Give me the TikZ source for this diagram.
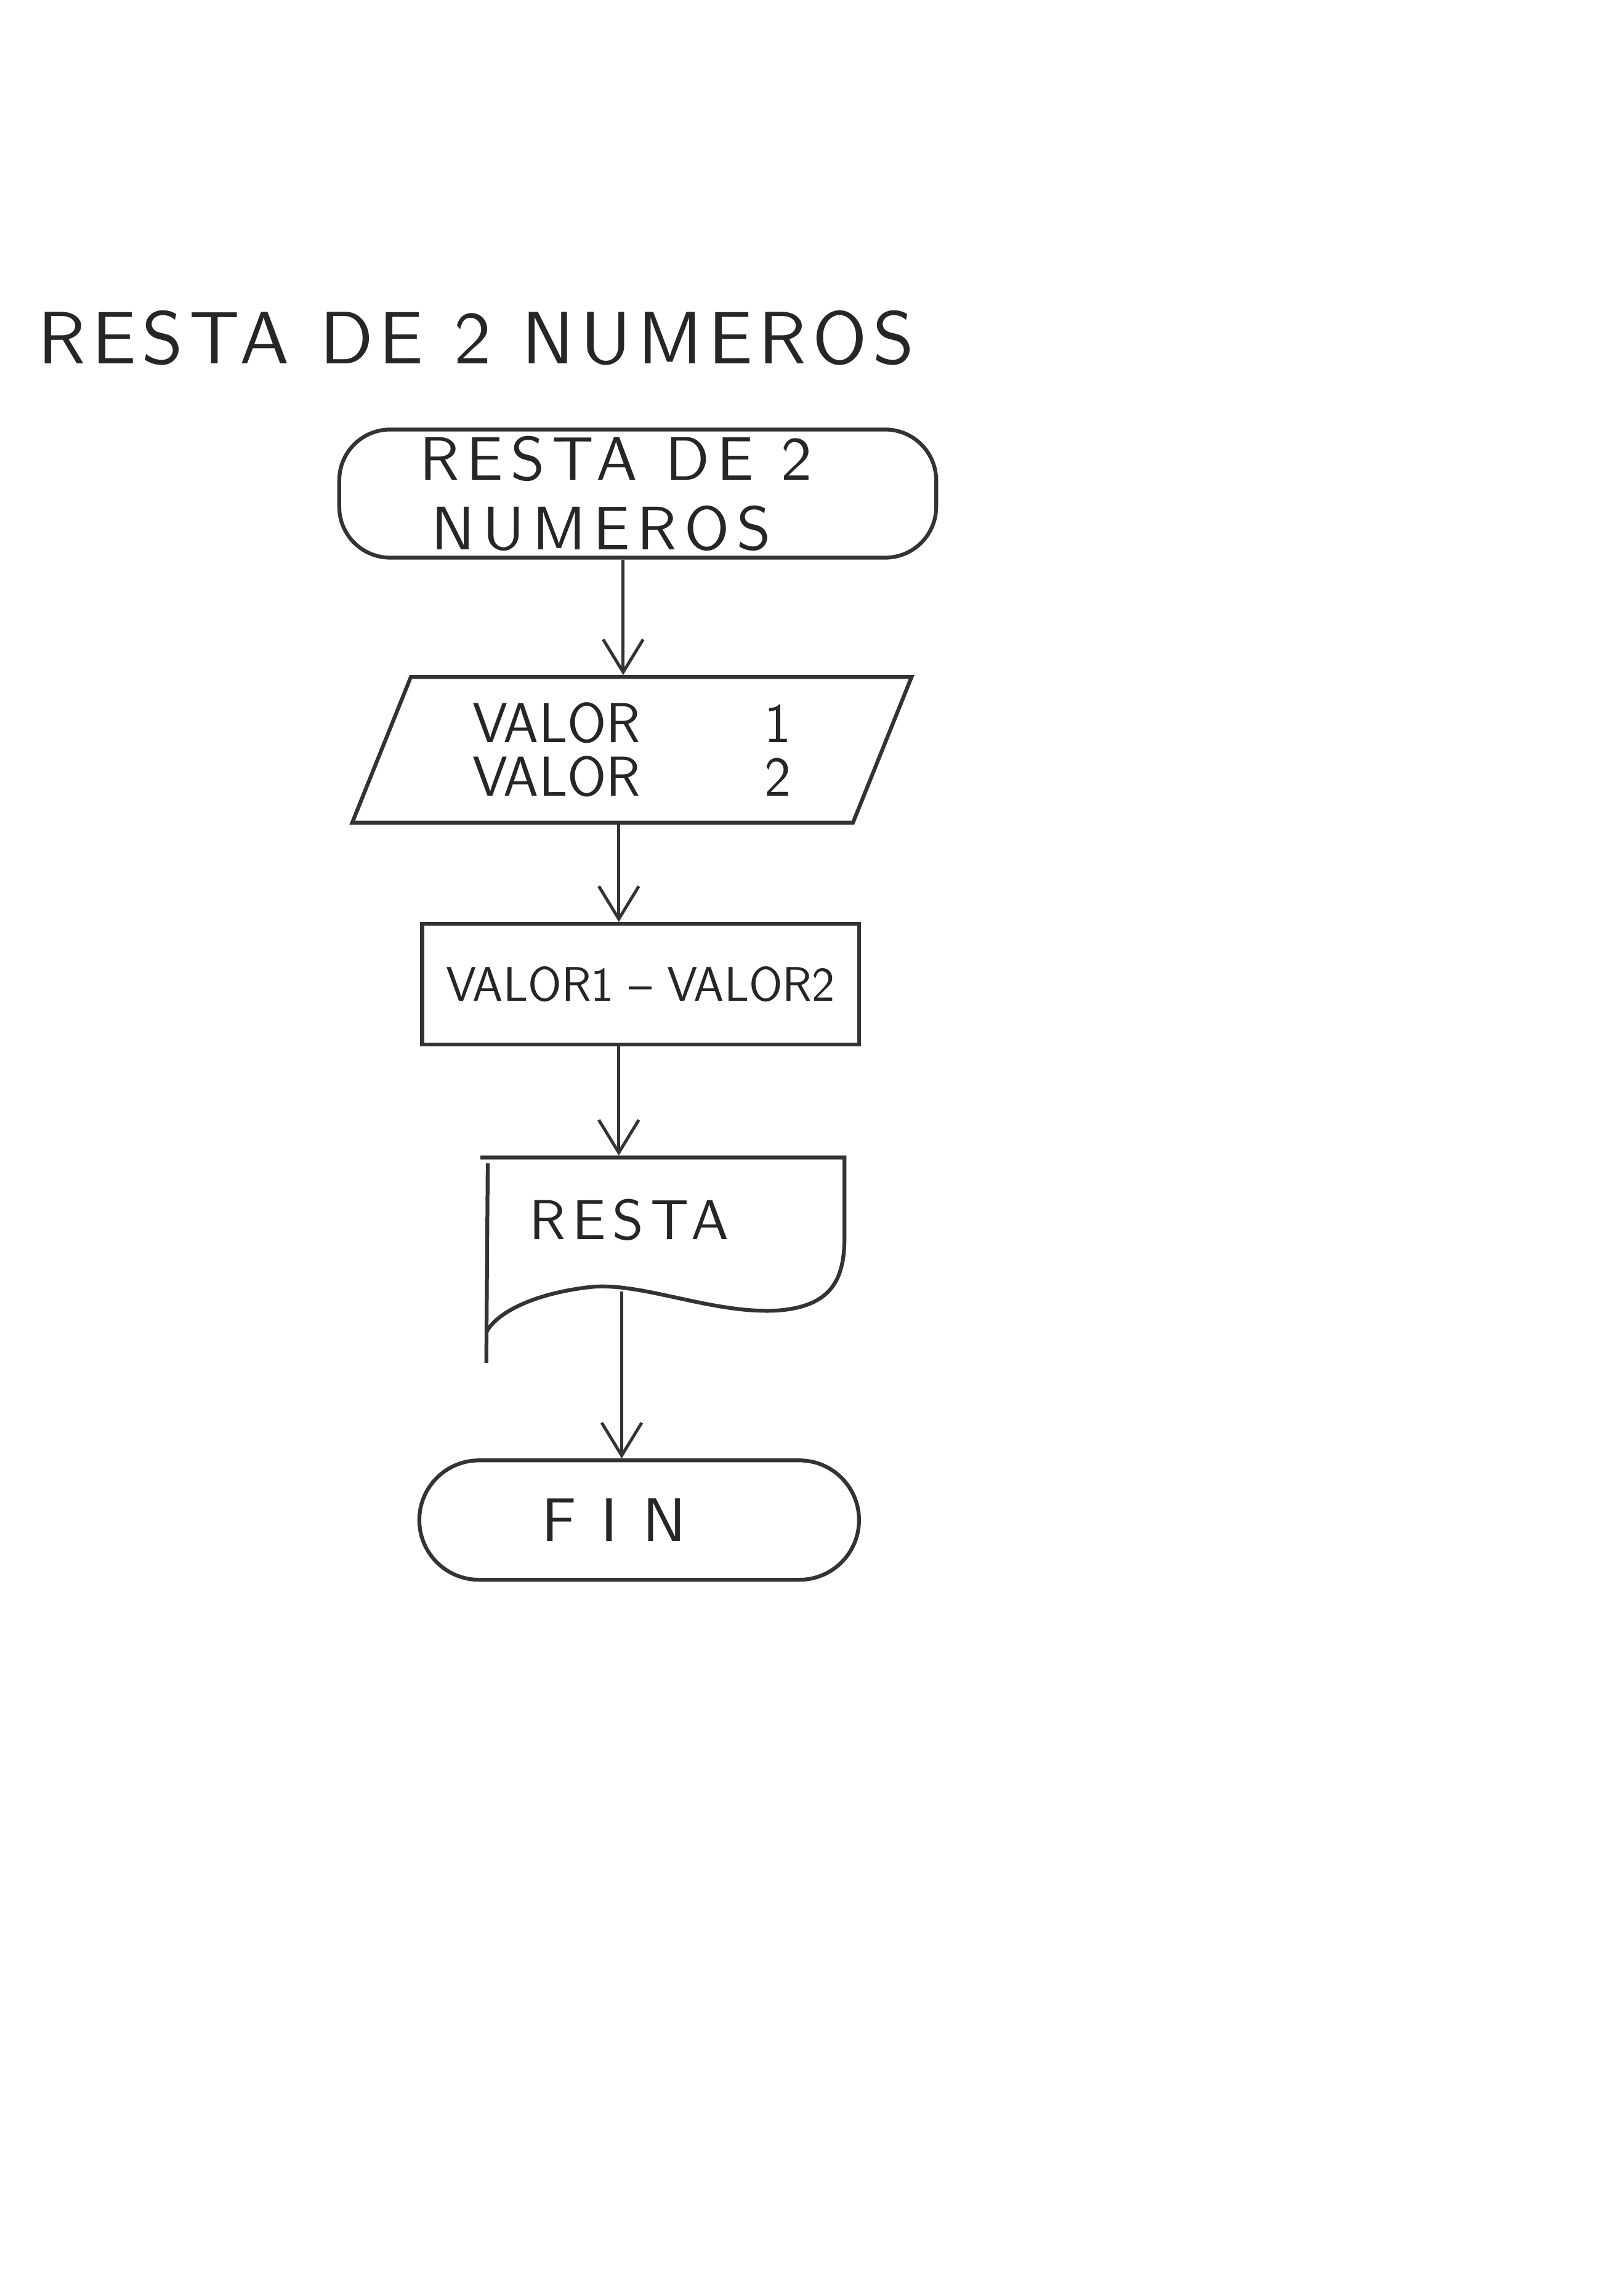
\documentclass[tikz,border=0pt]{standalone}
\usepackage{fontspec}
\newfontfamily\manotitulo{lmsans10-regular.otf}[LetterSpace=8]
\newfontfamily\manoancha{lmsans10-regular.otf}[LetterSpace=12]
\newfontfamily\manofin{lmsans10-regular.otf}[LetterSpace=40]
\usetikzlibrary{calc, positioning, arrows.meta, shapes.geometric, shapes.misc}

\begin{document}
\begin{tikzpicture}[x=0.2mm, y=-0.2mm, line width=1.5pt, >={Straight Barb[length=4.5mm, width=5.5mm]},
  hand/.style={font=\sffamily\fontsize{22}{28}\selectfont, align=center, text=black!85},
  term/.style={hand, draw=black!80, rectangle, rounded corners=7mm, inner sep=0pt},
  fintext/.style={hand, draw=black!80, rounded rectangle, inner sep=0pt},
  datos/.style={hand, draw=black!80, trapezium, trapezium left angle=66, trapezium right angle=114, trapezium stretches, inner sep=0pt},
  proc/.style={hand, draw=black!80, rectangle, inner sep=0pt},
  flecha/.style={->, draw=black!80, line width=1.2pt}]
  \useasboundingbox (0,0) rectangle (1115,1568);

  \node[hand, font=\manotitulo\fontsize{29}{34}\selectfont] (titulo) at (327,232) {RESTA DE 2 NUMEROS};

  \node[term, font=\manoancha\fontsize{24}{27}\selectfont,
    minimum width=82mm, minimum height=17.6mm] (inicio) at (438,339) {RESTA DE 2\hspace*{6mm}\\NUMEROS\hspace*{10mm}};
  \node[datos, font=\sffamily\fontsize{22}{21}\selectfont, minimum width=77mm, minimum height=20mm] (valores) at (434,515)
    {VALOR\hspace{17mm}1\\VALOR\hspace{17mm}2};
  \node[proc, font=\sffamily\fontsize{19}{24}\selectfont, minimum width=60mm, minimum height=16.6mm] (resta) at (440,676) {VALOR1 -- VALOR2};

  \node[minimum width=50mm, minimum height=28mm] (salida) at (455,865) {};
  \node[hand, font=\manoancha\fontsize{22}{28}\selectfont] (textosalida) at (432,838) {RESTA};
  \draw[draw=black!80] (330,795) -- (580,795) -- (580,850)
    .. controls (580,880) and (570,897) .. (535,900)
    .. controls (490,903) and (440,880) .. (405,884)
    .. controls (370,888) and (342,900) .. (334,915);
  \draw[draw=black!80] (335,799) -- (334,936);
  \coordinate (ola) at (427,887);

  \node[fintext, font=\manofin\fontsize{24}{28}\selectfont,
    minimum width=60.4mm, minimum height=16.4mm] (fin) at (439,1044) {FIN\hspace*{7mm}};

  \draw[flecha] ([xshift=-2mm]inicio.south) -- ([xshift=-2mm]inicio.south |- valores.north);
  \draw[flecha] ([xshift=-1.8mm]valores.south) -- ([xshift=-1.8mm]valores.south |- resta.north);
  \draw[flecha] ([xshift=-3mm]resta.south) -- ([xshift=-3mm]resta.south |- salida.north);
  \draw[flecha] (ola) -- (ola |- fin.north);
\end{tikzpicture}
\end{document}
